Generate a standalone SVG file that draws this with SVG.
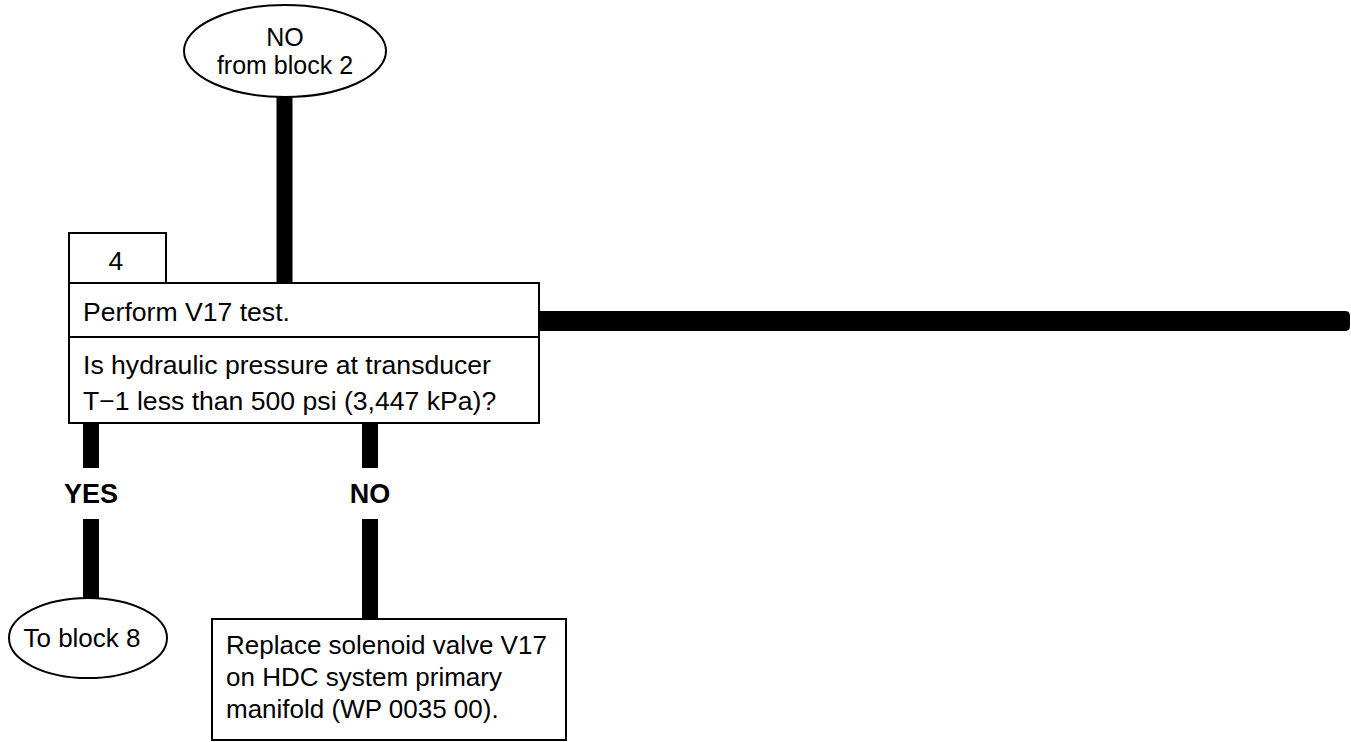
<svg xmlns="http://www.w3.org/2000/svg" width="1351" height="742" viewBox="0 0 1351 742">
  <style>
    .shape { fill: #ffffff; stroke: #000000; stroke-width: 2; }
    .rule { stroke: #000000; stroke-width: 2; fill: none; }
    .bar { stroke: #000000; stroke-width: 16; fill: none; }
    .txt { font-family: "Liberation Sans", Arial, Helvetica, sans-serif; font-size: 26px; fill: #000000; }
    .big { font-size: 26.6px; }
    .term { font-size: 25px; }
    .lbl { font-family: "Liberation Sans", Arial, Helvetica, sans-serif; font-size: 27px; font-weight: bold; fill: #000000; }
  </style>

  <!-- connectors -->
  <g id="connectors">
    <line class="bar" x1="284.5" y1="96" x2="284.5" y2="284"/>
    <path d="M539,311 H1345 Q1350,311 1350,316 V326 Q1350,331 1345,331 H539 Z" fill="#000000"/>
    <line class="bar" x1="91" y1="423" x2="91" y2="468"/>
    <line class="bar" x1="91" y1="519" x2="91" y2="600"/>
    <line class="bar" x1="370" y1="423" x2="370" y2="468"/>
    <line class="bar" x1="370" y1="519" x2="370" y2="620"/>
    <text class="lbl" x="91" y="503" text-anchor="middle">YES</text>
    <text class="lbl" x="370" y="503" text-anchor="middle">NO</text>
  </g>

  <!-- entry terminal -->
  <g id="from-block-2">
    <ellipse class="shape" cx="285" cy="51" rx="101" ry="46"/>
    <text class="txt term" x="285" y="46" text-anchor="middle">NO</text>
    <text class="txt term" x="285" y="74" text-anchor="middle">from block 2</text>
  </g>

  <!-- decision block 4 -->
  <g id="block-4">
    <rect class="shape" x="69" y="233" width="97" height="50"/>
    <text class="txt big" x="116" y="270" text-anchor="middle">4</text>
    <rect class="shape" x="69" y="283" width="470" height="140"/>
    <line class="rule" x1="69" y1="337" x2="539" y2="337"/>
    <text class="txt big" x="83" y="321">Perform V17 test.</text>
    <text class="txt big" x="83" y="374">Is hydraulic pressure at transducer</text>
    <text class="txt big" x="83" y="410">T&#8722;1 less than 500 psi (3,447 kPa)?</text>
  </g>

  <!-- YES exit -->
  <g id="to-block-8">
    <ellipse class="shape" cx="88" cy="638" rx="79" ry="40"/>
    <text class="txt" x="82" y="647" text-anchor="middle">To block 8</text>
  </g>

  <!-- NO action -->
  <g id="replace-v17">
    <rect class="shape" x="212" y="619" width="354" height="121"/>
    <text class="txt" x="226" y="654">Replace solenoid valve V17</text>
    <text class="txt" x="226" y="686">on HDC system primary</text>
    <text class="txt" x="226" y="718">manifold (WP 0035 00).</text>
  </g>
</svg>
